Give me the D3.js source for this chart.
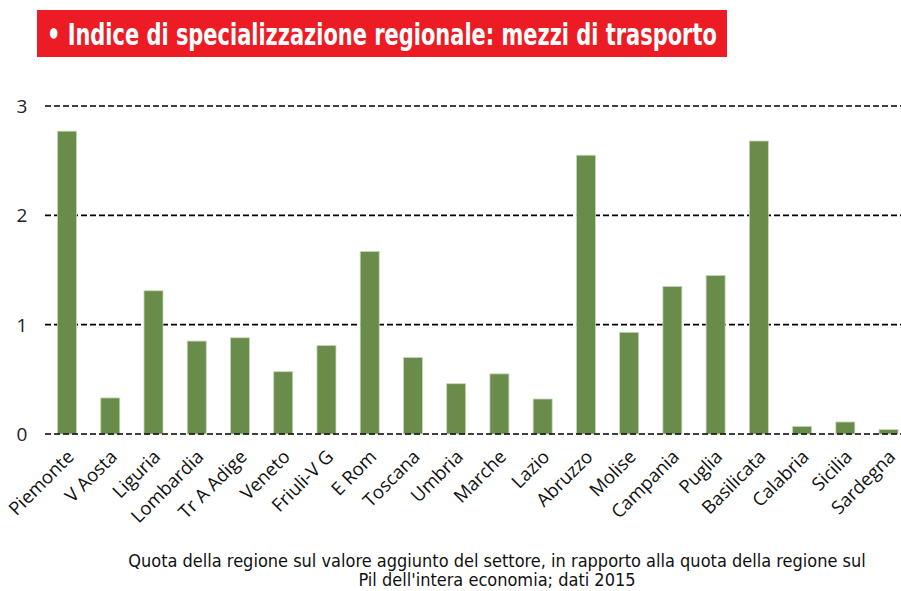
<!DOCTYPE html>
<html>
<head>
<meta charset="utf-8">
<title>Indice di specializzazione regionale: mezzi di trasporto</title>
<script src="https://d3js.org/d3.v7.min.js"></script>
<style>
  body { margin: 0; background: #fff; }
  svg { display: block; }
</style>
</head>
<body>
<svg id="chart" width="901" height="591"></svg>
<script>
// dati
var regioni = ["Piemonte", "V Aosta", "Liguria", "Lombardia", "Tr A Adige", "Veneto",
  "Friuli-V G", "E Rom", "Toscana", "Umbria", "Marche", "Lazio", "Abruzzo", "Molise",
  "Campania", "Puglia", "Basilicata", "Calabria", "Sicilia", "Sardegna"];
var indice = [2.77, 0.33, 1.31, 0.85, 0.88, 0.57, 0.81, 1.67, 0.70, 0.46,
  0.55, 0.32, 2.55, 0.93, 1.35, 1.45, 2.68, 0.07, 0.11, 0.04];
var ticksY = [0, 1, 2, 3];
var titolo = "\u2022 Indice di specializzazione regionale: mezzi di trasporto";
var nota = ["Quota della regione sul valore aggiunto del settore, in rapporto alla quota della regione sul",
  "Pil dell'intera economia; dati 2015"];

var svg = d3.select("#chart");

// Title banner
svg.append("rect")
  .attr("x", 37).attr("y", 10)
  .attr("width", 690).attr("height", 47)
  .style("fill", "#ed1c24");
var tit = svg.append("text")
  .style("font-family", "'Liberation Sans Narrow', 'DejaVu Sans Condensed', sans-serif")
  .style("font-weight", "bold")
  .style("font-size", "31px")
  .style("fill", "#fff")
  .text(titolo);
// squeeze the title to the banner width (condensed look)
var tw = tit.node().getComputedTextLength();
tit.attr("transform", "translate(47,44.5) scale(" + (670 / tw) + ",1)");

var x = d3.scaleBand()
  .domain(regioni)
  .range([45.4, 910.2])
  .paddingInner(0.56)
  .paddingOuter(0.28);

var y = d3.scaleLinear()
  .domain([0, 3])
  .range([434, 106]);

// gridlines
svg.append("g").selectAll("line.grid")
  .data(ticksY.filter(function(d) { return d > 0; }))
  .enter().append("line")
  .attr("class", "grid")
  .attr("x1", 45).attr("x2", 901)
  .attr("y1", function(d) { return y(d); })
  .attr("y2", function(d) { return y(d); })
  .style("stroke", "#000")
  .style("stroke-width", 1.6)
  .style("stroke-dasharray", "6,3");

// bars
svg.append("g").selectAll("rect.bar")
  .data(indice)
  .enter().append("rect")
  .attr("class", "bar")
  .attr("x", function(d, i) { return x(regioni[i]); })
  .attr("y", function(d) { return y(d); })
  .attr("width", x.bandwidth())
  .attr("height", function(d) { return y(0) - y(d); })
  .style("fill", "#6a8c4b")
  .style("stroke", "#c9d8bb")
  .style("stroke-width", 0.8);

// zero line on top
svg.append("line")
  .attr("x1", 45).attr("x2", 901)
  .attr("y1", y(0)).attr("y2", y(0))
  .style("stroke", "#000")
  .style("stroke-width", 1.6)
  .style("stroke-dasharray", "6,3");

// y labels
svg.append("g").selectAll("text.ytick")
  .data(ticksY)
  .enter().append("text")
  .attr("class", "ytick")
  .attr("x", 22).attr("y", function(d) { return y(d) + 7; })
  .attr("text-anchor", "middle")
  .style("font-family", "'Open Sans', sans-serif")
  .style("font-size", "19px")
  .style("fill", "#222")
  .text(function(d) { return d; });

// x labels
svg.append("g").selectAll("text.xlab")
  .data(regioni)
  .enter().append("text")
  .attr("class", "xlab")
  .attr("transform", function(d) {
    return "translate(" + (x(d) + x.bandwidth() / 2 + 8) + ",458) rotate(-45)";
  })
  .attr("text-anchor", "end")
  .style("font-family", "'Open Sans', sans-serif")
  .style("font-size", "18.5px")
  .style("fill", "#111")
  .text(function(d) { return d; });

// note
svg.append("g").selectAll("text.nota")
  .data(nota)
  .enter().append("text")
  .attr("class", "nota")
  .attr("x", 497)
  .attr("y", function(d, i) { return 567 + i * 19; })
  .attr("text-anchor", "middle")
  .style("font-family", "'Liberation Sans Narrow', 'DejaVu Sans Condensed', sans-serif")
  .style("font-size", "18px")
  .style("fill", "#111")
  .text(function(d) { return d; });
</script>
</body>
</html>
